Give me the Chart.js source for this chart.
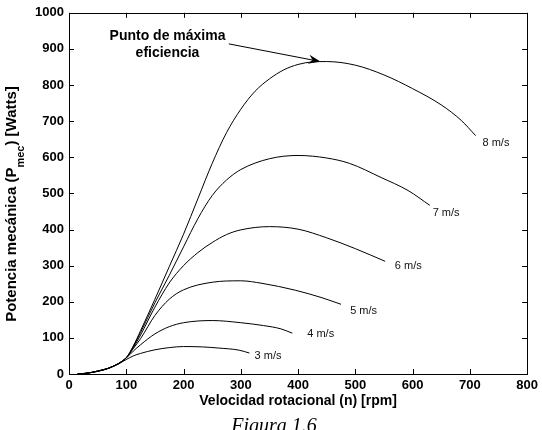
<!DOCTYPE html>
<html lang="es">
<head>
    <meta charset="UTF-8">
    <title>Potencia mecánica vs velocidad rotacional</title>
    <script src="https://cdn.jsdelivr.net/npm/chart.js"></script>
    <style>
        html, body { margin: 0; padding: 0; background: #fff; }
        #wrap { width: 542px; height: 430px; }
    </style>
</head>
<body>
<div id="wrap"><canvas id="grafico" width="542" height="430"></canvas></div>
<script>
    // curvas de potencia para cada velocidad de viento
    const rpm3 = [15, 30, 50, 75, 100, 112, 125, 150, 175, 200, 233, 260, 297, 315];
    const pot3 = [0, 2, 7, 19, 40, 50, 57, 67, 73, 76, 75, 72, 66, 58];

    const rpm4 = [15, 30, 50, 75, 100, 112, 125, 150, 175, 200, 250, 300, 340, 370, 390];
    const pot4 = [0, 2, 8, 20, 44, 63, 81, 111, 131, 142, 148, 142, 134, 125, 113];

    const rpm5 = [15, 30, 50, 75, 100, 112, 125, 150, 175, 200, 250, 300, 337, 395, 440, 475];
    const pot5 = [0, 2, 8, 20, 45, 70, 98, 162, 207, 233, 254, 258, 251, 232, 212, 193];

    const rpm6 = [15, 30, 50, 75, 100, 112, 125, 150, 175, 200, 225, 250, 275, 300, 350, 400, 450, 500, 552];
    const pot6 = [0, 2, 8, 20, 45, 72, 108, 185, 252, 300, 336, 364, 386, 399, 408, 401, 377, 347, 312];

    const rpm7 = [15, 30, 50, 75, 100, 112, 125, 150, 175, 200, 225, 250, 275, 300, 350, 400, 450, 490, 545, 592, 630];
    const pot7 = [0, 2, 8, 20, 45, 75, 115, 197, 273, 352, 430, 494, 537, 566, 596, 605, 598, 583, 544, 508, 467];

    const rpm8 = [15, 30, 50, 75, 100, 112, 125, 150, 175, 200, 225, 250, 275, 300, 325, 350, 375, 400, 425, 450, 500, 550, 600, 650, 685, 710];
    const pot8 = [0, 2, 8, 20, 45, 77, 120, 207, 297, 387, 485, 583, 668, 733, 783, 817, 842, 857, 864, 865, 855, 828, 790, 745, 702, 660];

    const etiquetas = ['3 m/s', '4 m/s', '5 m/s', '6 m/s', '7 m/s', '8 m/s'];
    // donde va cada etiqueta (rpm, watts)
    const etiquetaRpm = [324, 416, 491, 569, 635, 722];
    const etiquetaPot = [50, 110, 174, 298, 447, 641];

    const ticksX = [0, 100, 200, 300, 400, 500, 600, 700, 800];
    const ticksY = [0, 100, 200, 300, 400, 500, 600, 700, 800, 900, 1000];

    const notaTexto = ['Punto de máxima', 'eficiencia'];
    const notaRpm = 172;
    const notaPot = [936, 888];
    const flechaDesde = [279, 914];
    const flechaHasta = [439, 865];

    const fuente = '"Liberation Sans", Arial, sans-serif';

    const curvas = [[rpm3, pot3], [rpm4, pot4], [rpm5, pot5], [rpm6, pot6], [rpm7, pot7], [rpm8, pot8]];
    const datasets = curvas.map((c, i) => ({
        label: etiquetas[i],
        data: c[0].map((x, j) => ({ x: x, y: c[1][j] })),
        borderColor: '#000',
        borderWidth: 1,
        pointRadius: 0,
        fill: false,
        cubicInterpolationMode: 'monotone'
    }));

    // marco, ticks hacia adentro, textos
    const extras = {
        id: 'extras',
        afterDraw(chart) {
            const ctx = chart.ctx;
            const a = chart.chartArea;
            const sx = chart.scales.x, sy = chart.scales.y;
            ctx.save();

            ctx.strokeStyle = '#000';
            ctx.lineWidth = 1;
            ctx.strokeRect(Math.round(a.left) + 0.5, Math.round(a.top) + 0.5,
                Math.round(a.right - a.left), Math.round(a.bottom - a.top));

            ctx.beginPath();
            ticksX.forEach(v => {
                const px = Math.round(sx.getPixelForValue(v)) + 0.5;
                ctx.moveTo(px, a.bottom); ctx.lineTo(px, a.bottom - 5);
                ctx.moveTo(px, a.top); ctx.lineTo(px, a.top + 5);
            });
            ticksY.forEach(v => {
                const py = Math.round(sy.getPixelForValue(v)) + 0.5;
                ctx.moveTo(a.left, py); ctx.lineTo(a.left + 5, py);
                ctx.moveTo(a.right, py); ctx.lineTo(a.right - 5, py);
            });
            ctx.stroke();

            // etiquetas de las curvas
            ctx.fillStyle = '#111';
            ctx.font = '11px ' + fuente;
            ctx.textAlign = 'left';
            ctx.textBaseline = 'middle';
            etiquetas.forEach((t, i) => {
                ctx.fillText(t, sx.getPixelForValue(etiquetaRpm[i]), sy.getPixelForValue(etiquetaPot[i]));
            });

            // nota y flecha
            ctx.fillStyle = '#000';
            ctx.font = 'bold 14px ' + fuente;
            ctx.textAlign = 'center';
            notaTexto.forEach((t, i) => {
                ctx.fillText(t, sx.getPixelForValue(notaRpm), sy.getPixelForValue(notaPot[i]));
            });
            const x1 = sx.getPixelForValue(flechaDesde[0]), y1 = sy.getPixelForValue(flechaDesde[1]);
            const x2 = sx.getPixelForValue(flechaHasta[0]), y2 = sy.getPixelForValue(flechaHasta[1]);
            const ang = Math.atan2(y2 - y1, x2 - x1);
            ctx.beginPath();
            ctx.moveTo(x1, y1);
            ctx.lineTo(x2 - 8 * Math.cos(ang), y2 - 8 * Math.sin(ang));
            ctx.stroke();
            ctx.beginPath();
            ctx.moveTo(x2, y2);
            ctx.lineTo(x2 - 12 * Math.cos(ang) + 4.5 * Math.sin(ang), y2 - 12 * Math.sin(ang) - 4.5 * Math.cos(ang));
            ctx.lineTo(x2 - 8 * Math.cos(ang), y2 - 8 * Math.sin(ang));
            ctx.lineTo(x2 - 12 * Math.cos(ang) - 4.5 * Math.sin(ang), y2 - 12 * Math.sin(ang) + 4.5 * Math.cos(ang));
            ctx.closePath();
            ctx.fill();

            // titulo eje y con subindice
            const p1 = 'Potencia mecánica (P', p2 = 'mec', p3 = ') [Watts]';
            ctx.translate(16, 204);
            ctx.rotate(-Math.PI / 2);
            ctx.textAlign = 'left';
            ctx.textBaseline = 'alphabetic';
            ctx.font = 'bold 15px ' + fuente;
            const w1 = ctx.measureText(p1).width, w3 = ctx.measureText(p3).width;
            ctx.font = 'bold 11px ' + fuente;
            const w2 = ctx.measureText(p2).width;
            let x0 = -(w1 + w2 + w3) / 2;
            ctx.font = 'bold 15px ' + fuente;
            ctx.fillText(p1, x0, 0);
            ctx.font = 'bold 11px ' + fuente;
            ctx.fillText(p2, x0 + w1, 8);
            ctx.font = 'bold 15px ' + fuente;
            ctx.fillText(p3, x0 + w1 + w2, 0);
            ctx.restore();

            // pie de figura
            ctx.save();
            ctx.fillStyle = '#000';
            ctx.font = 'italic 20px "Liberation Serif", "Times New Roman", serif';
            ctx.textAlign = 'center';
            ctx.textBaseline = 'alphabetic';
            ctx.fillText('Figura 1.6', 274, 432);
            ctx.restore();
        }
    };

    new Chart(document.getElementById('grafico').getContext('2d'), {
        type: 'line',
        data: { datasets: datasets },
        options: {
            responsive: false,
            animation: false,
            layout: { padding: { left: 0, top: 12, right: 12, bottom: 0 } },
            plugins: { legend: { display: false }, tooltip: { enabled: false } },
            scales: {
                x: {
                    type: 'linear',
                    min: 0,
                    max: 800,
                    afterFit: s => { s.height = 56; },
                    grid: { display: false, drawTicks: false },
                    border: { display: false },
                    ticks: {
                        stepSize: 100,
                        padding: 4,
                        maxRotation: 0,
                        color: '#000',
                        callback: v => String(v),
                        font: { family: fuente, size: 13, weight: 'bold' }
                    },
                    title: {
                        display: true,
                        text: 'Velocidad rotacional (n) [rpm]',
                        color: '#000',
                        font: { family: fuente, size: 14, weight: 'bold' },
                        padding: { top: 0, bottom: 20 }
                    }
                },
                y: {
                    min: 0,
                    max: 1000,
                    afterFit: s => { s.width = 69; },
                    grid: { display: false, drawTicks: false },
                    border: { display: false },
                    ticks: {
                        stepSize: 100,
                        padding: 5,
                        color: '#000',
                        callback: v => String(v),
                        font: { family: fuente, size: 13, weight: 'bold' }
                    }
                }
            }
        },
        plugins: [extras]
    });
</script>
</body>
</html>
